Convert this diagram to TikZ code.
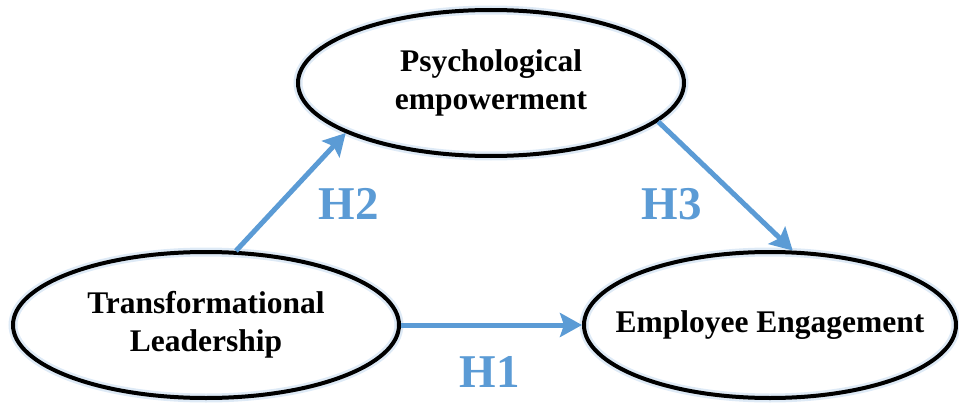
\documentclass[tikz,border=0pt]{standalone}
\usepackage{fontspec}
\setmainfont{Liberation Serif}
\usepackage{tikz}
\usetikzlibrary{shapes,arrows.meta,positioning}
\definecolor{hblue}{RGB}{91,155,213}
\definecolor{glow}{RGB}{222,234,246}

\begin{document}
\begin{tikzpicture}[x=1pt, y=-1pt, semithick]
\tikzstyle{construct}=[ellipse, draw=black, line width=4pt, inner sep=0pt,
  minimum width=386pt, minimum height=146pt, align=center, text=black,
  font=\fontsize{31.5}{37.5}\selectfont\bfseries,
  preaction={draw=glow, line width=9pt}]
\tikzstyle{hyp}=[draw=hblue, line width=5pt, -{Stealth[length=22pt,width=24pt,inset=4pt]}]
\tikzstyle{hlabel}=[text=hblue, font=\fontsize{47}{47}\selectfont\bfseries]
\useasboundingbox (0,0) rectangle (959,404);

\node[construct] (pe) at (491,83)  {Psychological\\empowerment};
\node[construct] (tl) at (206,325) {Transformational\\Leadership};
\node[construct, minimum width=372pt, inner xsep=-40pt] (ee) at (770,325) {Employee Engagement};

\path
(tl.68)   edge[hyp]   (pe.199)
(pe.-13)  edge[hyp]   (ee.73)
(tl.east) edge[hyp]   (ee.west);

\node[hlabel] (h2) at (349,204) {H2};
\node[hlabel] (h3) at (672,204) {H3};
\node[hlabel] (h1) at (490,372) {H1};

\end{tikzpicture}
\end{document}
